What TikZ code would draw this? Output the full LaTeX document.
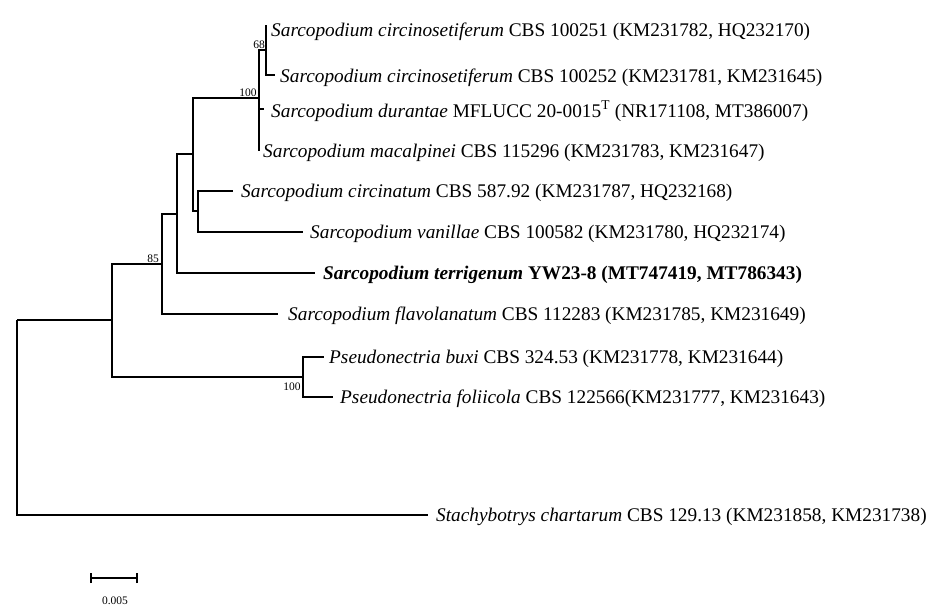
\documentclass[tikz,border=0pt]{standalone}
\usepackage{fontspec}
\setmainfont{Liberation Serif}
\begin{document}
\begin{tikzpicture}[x=1pt,y=-1pt,
  br/.style={line width=1.1pt},
  tx/.style={anchor=west,inner sep=0pt,font=\fontsize{19.3}{21}\selectfont},
  bs/.style={font=\fontsize{11.5}{12}\selectfont,inner sep=0pt,anchor=south}]
\useasboundingbox (0,0) rectangle (950,615);
% nodes
\coordinate (R) at (17,320);
\coordinate (A) at (112,320);
\coordinate (B) at (162,264);
\coordinate (C) at (177,214);
\coordinate (D) at (193,154);
\coordinate (E) at (259,98);
\coordinate (F) at (266,50);
\coordinate (G) at (198,211);
\coordinate (P) at (303,377);
% tips
\coordinate (t1) at (267,26);
\coordinate (t2) at (275,75);
\coordinate (t3) at (264,109);
\coordinate (t4) at (259,151);
\coordinate (t5) at (233,191);
\coordinate (t6) at (303,232);
\coordinate (t7) at (315,273);
\coordinate (t8) at (278,314);
\coordinate (t9) at (324,357);
\coordinate (t10) at (333,397);
\coordinate (t11) at (428,515);
% branches
\draw[br] (R) |- (A); \draw[br] (R) |- (t11);
\draw[br] (A) |- (B); \draw[br] (A) |- (P);
\draw[br] (B) |- (C); \draw[br] (B) |- (t8);
\draw[br] (C) |- (D); \draw[br] (C) |- (t7);
\draw[br] (D) |- (E); \draw[br] (D) |- (G);
\draw[br] (G) |- (t5); \draw[br] (G) |- (t6);
\draw[br] (E) |- (F); \draw[br] (E) |- (t3); \draw[br] (E) |- (t4);
\draw[br] (F) |- (t1); \draw[br] (F) |- (t2);
\draw[br] (P) |- (t9); \draw[br] (P) |- (t10);
% bootstrap
\node[bs] (b68) at (259,49) {68};
\node[bs] (b100a) at (248,97) {100};
\node[bs] (b85) at (153,263) {85};
\node[bs] (b100b) at (292,391) {100};
% labels
\node[tx] (l1) at (271,32) {\textit{Sarcopodium circinosetiferum} CBS 100251 (KM231782, HQ232170)};
\node[tx] (l2) at (280,78) {\textit{Sarcopodium circinosetiferum} CBS 100252 (KM231781, KM231645)};
\node[tx] (l3) at (271,111) {\textit{Sarcopodium durantae} MFLUCC 20-0015\textsuperscript{T} (NR171108, MT386007)};
\node[tx] (l4) at (263,153) {\textit{Sarcopodium macalpinei} CBS 115296 (KM231783, KM231647)};
\node[tx] (l5) at (241,193) {\textit{Sarcopodium circinatum} CBS 587.92 (KM231787, HQ232168)};
\node[tx] (l6) at (310,234) {\textit{Sarcopodium vanillae} CBS 100582 (KM231780, HQ232174)};
\node[tx] (l7) at (323,275) {\textbf{\textit{Sarcopodium terrigenum} YW23-8 (MT747419, MT786343)}};
\node[tx] (l8) at (288,316) {\textit{Sarcopodium flavolanatum} CBS 112283 (KM231785, KM231649)};
\node[tx] (l9) at (329,359) {\textit{Pseudonectria buxi} CBS 324.53 (KM231778, KM231644)};
\node[tx] (l10) at (340,399) {\textit{Pseudonectria foliicola} CBS 122566(KM231777, KM231643)};
\node[tx] (l11) at (436,517) {\textit{Stachybotrys chartarum} CBS 129.13 (KM231858, KM231738)};
% scale
\coordinate (s1) at (91,578); \coordinate (s2) at (137,578);
\draw[br] (s1) -- (s2);
\draw[br] ([yshift=-5]s1) -- ([yshift=5]s1);
\draw[br] ([yshift=-5]s2) -- ([yshift=5]s2);
\node[bs,anchor=center] (sl) at (115,601) {0.005};
\end{tikzpicture}
\end{document}
